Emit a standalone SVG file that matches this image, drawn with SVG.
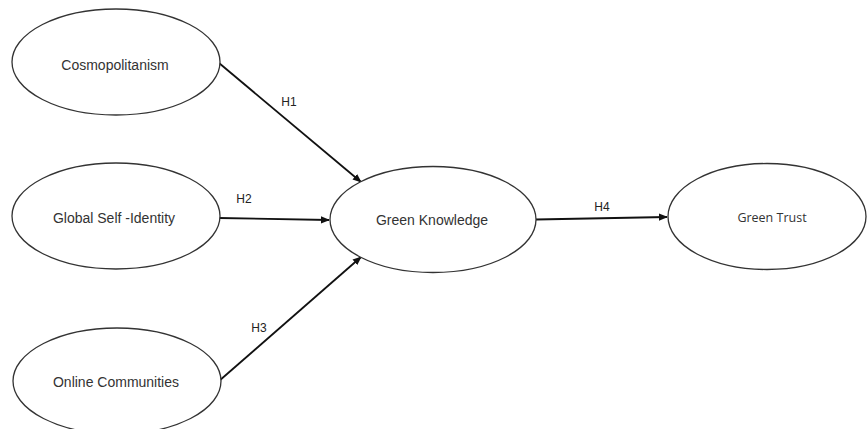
<svg xmlns="http://www.w3.org/2000/svg" width="868" height="429" viewBox="0 0 868 429">
<defs>
<style>
.node ellipse{fill:#ffffff;stroke:#333333;stroke-width:1.3}
.lbl{font-family:"Liberation Sans",Arial,sans-serif;font-size:14px;fill:#333333;text-anchor:middle;dominant-baseline:central}
.lbl2{font-family:"Open Sans","Noto Sans",sans-serif;font-size:12.5px;fill:#333333;text-anchor:middle;dominant-baseline:central}
.edge{stroke:#111111;stroke-width:1.8;fill:none;marker-end:url(#ah)}
.h{font-family:"Liberation Sans",Arial,sans-serif;font-size:12px;fill:#222222;text-anchor:middle;dominant-baseline:central}
</style>
<marker id="ah" viewBox="0 0 10 10" refX="9" refY="5" markerWidth="5" markerHeight="5" orient="auto" markerUnits="strokeWidth">
<path d="M0,1 L10,5 L0,9 z" fill="#111111"/>
</marker>
</defs>
<rect width="868" height="429" fill="#ffffff"/>
<g id="connectors">
<line class="edge" x1="219" y1="63" x2="361" y2="182"/>
<line class="edge" x1="219" y1="218" x2="329" y2="220"/>
<line class="edge" x1="219" y1="381" x2="361" y2="257"/>
<line class="edge" x1="536" y1="219.5" x2="667" y2="217"/>
<text class="h" x="289" y="102">H1</text>
<text class="h" x="244" y="199">H2</text>
<text class="h" x="259" y="328">H3</text>
<text class="h" x="602" y="207">H4</text>
</g>
<g id="cosmopolitanism" class="node">
<ellipse cx="116" cy="62" rx="104" ry="53"/>
<text class="lbl" x="115" y="65">Cosmopolitanism</text>
</g>
<g id="global-self-identity" class="node">
<ellipse cx="116" cy="216" rx="104" ry="53"/>
<text class="lbl" x="114" y="218">Global Self -Identity</text>
</g>
<g id="online-communities" class="node">
<ellipse cx="117" cy="381" rx="104" ry="53"/>
<text class="lbl" x="116" y="382">Online Communities</text>
</g>
<g id="green-knowledge" class="node">
<ellipse cx="433" cy="219.5" rx="103" ry="53"/>
<text class="lbl" x="432" y="220">Green Knowledge</text>
</g>
<g id="green-trust" class="node">
<ellipse cx="767" cy="216.5" rx="99" ry="53"/>
<text class="lbl2" x="772" y="217">Green Trust</text>
</g>
</svg>
